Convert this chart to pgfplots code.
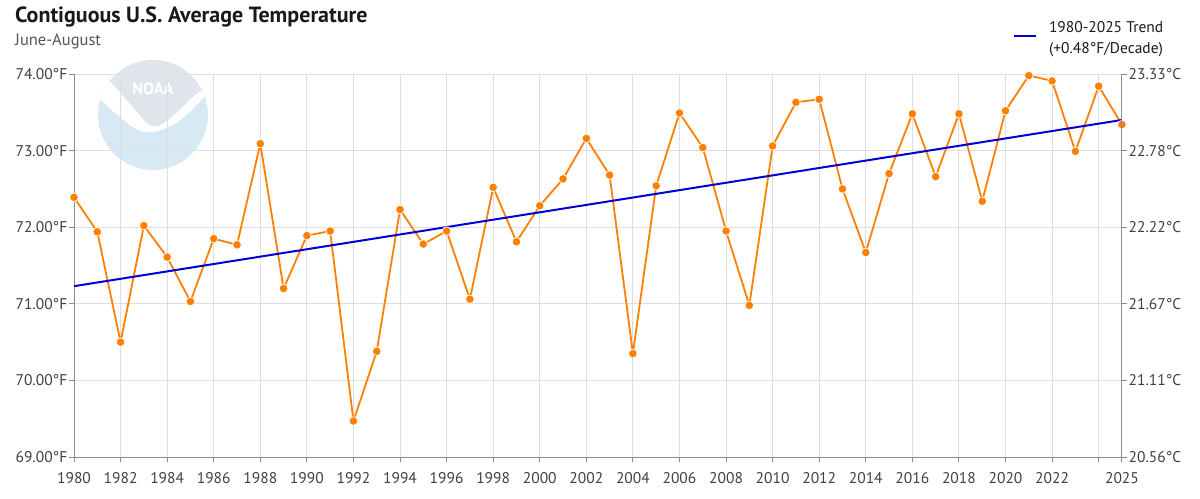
\documentclass[border=0pt]{standalone}
\usepackage{fontspec}
\setmainfont{PT Sans}
\usepackage{pgfplots}
\pgfplotsset{compat=1.18}
\usepackage{pgfplotstable}

\definecolor{tempor}{RGB}{255,128,0}
\definecolor{trendblue}{RGB}{0,0,214}
\definecolor{axisgray}{RGB}{140,140,140}
\definecolor{gridgray}{RGB}{222,222,222}
\definecolor{ticktext}{RGB}{64,64,64}
\definecolor{titletext}{RGB}{25,25,25}
\definecolor{subtext}{RGB}{85,85,85}
\definecolor{noaatop}{RGB}{224,229,236}
\definecolor{noaalow}{RGB}{216,233,246}

% June-August mean temperature, contiguous U.S. (deg F)
\pgfplotstableread{
year temp
1980 72.39
1981 71.94
1982 70.50
1983 72.02
1984 71.61
1985 71.03
1986 71.85
1987 71.77
1988 73.09
1989 71.20
1990 71.89
1991 71.95
1992 69.47
1993 70.38
1994 72.23
1995 71.78
1996 71.95
1997 71.06
1998 72.52
1999 71.81
2000 72.28
2001 72.63
2002 73.16
2003 72.68
2004 70.35
2005 72.54
2006 73.49
2007 73.04
2008 71.95
2009 70.98
2010 73.06
2011 73.63
2012 73.67
2013 72.50
2014 71.67
2015 72.70
2016 73.48
2017 72.66
2018 73.48
2019 72.34
2020 73.52
2021 73.98
2022 73.91
2023 72.99
2024 73.84
2025 73.34
}\summertemps

% 1980-2025 linear trend end points
\pgfplotstableread{
year temp
1980 71.23
2025 73.40
}\trendline

\newcommand{\ticksize}{\fontsize{15.5bp}{18bp}\selectfont}

\begin{document}
\begin{tikzpicture}
\path[use as bounding box] (0,0) rectangle (1200bp,499bp);

% header and watermark, laid out from the top-left corner
\begin{scope}[shift={(0,499bp)}, x=1bp, y=-1bp]
  \begin{scope}
    \clip (153,115) circle (55);
    \fill[noaalow] (153,115) circle (55);
    % white gull body
    \fill[white] (85,50) -- (85,90) -- (98,98)
      .. controls (112,110) and (126,124) .. (140,131)
      .. controls (150,135) and (165,130) .. (178,122)
      .. controls (188,114) and (198,104) .. (207,94)
      -- (225,78) -- (225,50) -- cycle;
    % upper field
    \fill[noaatop] (85,50) -- (90,58) -- (110,81) -- (145,121)
      .. controls (149,125) and (153,127) .. (158,126)
      .. controls (172,120) and (185,103) .. (195,95)
      -- (205,88) -- (225,74) -- (225,50) -- cycle;
  \end{scope}
  \node[anchor=base, text=white, font=\fontsize{16.5bp}{16.5bp}\selectfont\bfseries] at (153,95) {NOAA};

  \node[anchor=base west, inner sep=0, text=titletext,
        font=\fontsize{22bp}{26bp}\selectfont\bfseries] at (15,23) {Contiguous U.S. Average Temperature};
  \node[anchor=base west, inner sep=0, text=subtext,
        font=\fontsize{16.5bp}{19bp}\selectfont] at (15,46) {June-August};
\end{scope}

\begin{axis}[
  at={(74bp,42bp)}, anchor=south west,
  scale only axis, width=1048bp, height=383bp,
  xmin=1980, xmax=2025, ymin=69, ymax=74,
  clip=false,
  axis x line*=bottom, axis y line*=left,
  axis line style={axisgray, line width=1bp},
  tick align=outside, major tick length=5bp,
  tick style={axisgray, line width=1bp},
  grid=major, major grid style={gridgray, line width=1bp},
  xtick={1980,1982,...,2024,2025},
  xticklabels={1980,1982,1984,1986,1988,1990,1992,1994,1996,1998,2000,2002,2004,2006,2008,2010,2012,2014,2016,2018,2020,2022,,2025},
  ytick={69,70,71,72,73,74},
  yticklabels={69.00°F,70.00°F,71.00°F,72.00°F,73.00°F,74.00°F},
  ticklabel style={font=\ticksize, text=ticktext},
  yticklabel style={inner sep=1.5bp},
  xticklabel style={anchor=north, inner sep=0bp, yshift=-10.5bp},
  legend style={at={(axis description cs:0.893,1.1475)}, anchor=north west,
    draw=none, fill=none, font=\fontsize{15.5bp}{20.3bp}\selectfont, text=titletext,
    cells={align=left}},
  legend cell align=left,
  legend image code/.code={
    \draw[#1, line width=2bp] (0bp,2bp) -- (22bp,2bp);
    \path (32bp,-2bp);},
]
\addplot[tempor, line width=1.8bp, mark=*, mark size=4.3bp,
  mark options={fill=tempor, draw=white, line width=0.7bp}, forget plot]
  table[x=year, y=temp] {\summertemps};
\addplot[trendblue, line width=2bp] table[x=year, y=temp] {\trendline};
\addlegendentry{1980-2025 Trend\\(+0.48°F/Decade)}
\end{axis}

\begin{axis}[
  at={(74bp,42bp)}, anchor=south west,
  scale only axis, width=1048bp, height=383bp,
  xmin=1980, xmax=2025, ymin=69, ymax=74,
  axis x line=none, axis y line*=right,
  axis line style={axisgray, line width=1bp},
  tick align=outside, major tick length=5bp,
  tick style={axisgray, line width=1bp},
  ytick={69,70,71,72,73,74},
  yticklabels={20.56°C,21.11°C,21.67°C,22.22°C,22.78°C,23.33°C},
  yticklabel style={font=\ticksize, text=ticktext, inner sep=1.5bp},
]
\addplot[draw=none, forget plot] table[x=year, y=temp] {\trendline};
\end{axis}
\end{tikzpicture}
\end{document}
